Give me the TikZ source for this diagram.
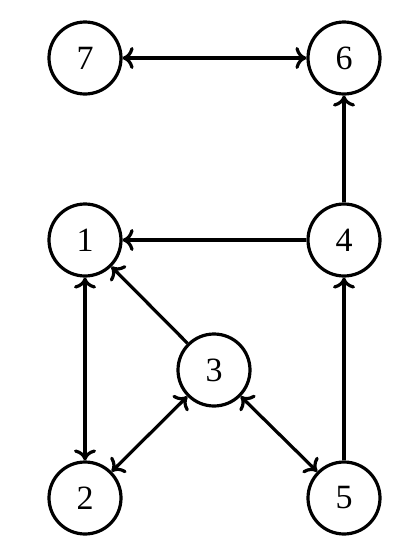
\documentclass[tikz,border=0pt]{standalone}
\usepackage{fontspec}
\setmainfont{Liberation Serif}
\usetikzlibrary{arrows.meta}
\begin{document}
\begin{tikzpicture}[x=1pt,y=-1pt,
  tip/.tip={Computer Modern Rightarrow[length=11pt,width=22pt,line width=3.2pt]},
  vtx/.style={circle,draw,line width=3.2pt,minimum size=72pt,inner sep=0pt,font=\fontsize{34}{38}\selectfont},
  edge/.style={line width=3.2pt,-tip},
  bedge/.style={line width=3.2pt,tip-tip}]
\useasboundingbox (0,0) rectangle (402,558);
\node[vtx] (n7) at (85,58) {7};
\node[vtx] (n6) at (344,58) {6};
\node[vtx] (n1) at (85,240) {1};
\node[vtx] (n4) at (344,240) {4};
\node[vtx] (n3) at (214,370) {3};
\node[vtx] (n2) at (85,498) {2};
\node[vtx] (n5) at (344,498) {5};
\draw[bedge] (n7) -- (n6);
\draw[edge] (n4) -- (n6);
\draw[edge] (n4) -- (n1);
\draw[edge] (n3) -- (n1);
\draw[bedge] (n1) -- (n2);
\draw[bedge] (n2) -- (n3);
\draw[bedge] (n3) -- (n5);
\draw[edge] (n5) -- (n4);
\end{tikzpicture}
\end{document}
